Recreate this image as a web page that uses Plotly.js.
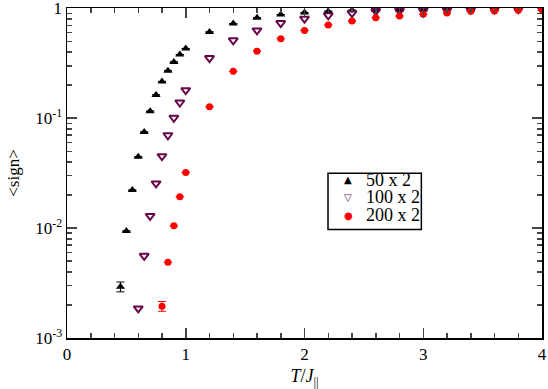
<!DOCTYPE html>
<html><head><meta charset="utf-8">
<script src="https://cdn.plot.ly/plotly-3.0.1.min.js"></script>
<style>body{margin:0;padding:0;background:#fff}#chart{width:548px;height:389px}</style>
</head><body><div id="chart"></div>
<script>
const seriesNames = ["50 x 2", "100 x 2", "200 x 2"];
const seriesColors = ["#000000", "#670748", "#ff0000"];
const legendGlyphs = ["▲", "<b>▽</b>", "●"];

const x50 = [0.45,0.5,0.55,0.6,0.65,0.7,0.75,0.8,0.85,0.9,0.95,1.0,1.2,1.4,1.6,1.8,2.0,2.2,2.4,2.6,2.8,3.0,3.2,3.4,3.6,3.8,4.0];
const y50 = [0.00293,0.0094,0.0222,0.0445,0.075,0.116,0.163,0.216,0.27,0.325,0.38,0.43,0.61,0.726,0.82,0.877,0.914,0.94,0.96,0.965,0.97,0.975,0.98,0.985,0.987,0.99,0.99];
const e50 = [0.00030,0,0,0,0,0,0,0,0,0,0,0,0,0,0,0,0,0,0,0,0,0,0,0,0,0,0];

const x100 = [0.6,0.65,0.7,0.75,0.8,0.85,0.9,0.95,1.0,1.2,1.4,1.6,1.8,2.0,2.2,2.4,2.6,2.8,3.0,3.2,3.4,3.6,3.8,4.0];
const y100 = [0.00186,0.0056,0.0129,0.0255,0.0451,0.070,0.101,0.139,0.18,0.353,0.512,0.63,0.735,0.805,0.864,0.906,0.945,0.955,0.96,0.97,0.975,0.98,0.982,0.985];

const x200 = [0.8,0.85,0.9,0.95,1.0,1.2,1.4,1.6,1.8,2.0,2.2,2.4,2.6,2.8,3.0,3.2,3.4,3.6,3.8,4.0];
const y200 = [0.00195,0.00488,0.0105,0.0193,0.032,0.127,0.267,0.407,0.53,0.63,0.705,0.767,0.823,0.851,0.882,0.906,0.939,0.945,0.96,0.97];
const e200 = [0.00020,0,0,0,0,0,0,0,0,0,0,0,0,0,0,0,0,0,0,0];

const yTickVals = [0.001, 0.01, 0.1, 1];
const yTickText = ["10<sup>-3</sup>", "10<sup>-2</sup>", "10<sup>-1</sup>", "1"];
const yMinorVals = [];
[0.001, 0.01, 0.1].forEach(d => { for (let k = 2; k <= 9; k++) yMinorVals.push(d * k); });

const serif = "Liberation Serif, Times New Roman, serif";

const traces = [
  {x:x50, y:y50, name:seriesNames[0], type:"scatter", mode:"markers",
   marker:{symbol:"triangle-up", size:8, color:seriesColors[0]},
   error_y:{type:"data", array:e50, visible:true, color:seriesColors[0], thickness:1, width:4}},
  {x:x100, y:y100, name:seriesNames[1], type:"scatter", mode:"markers",
   marker:{symbol:"triangle-down-open", size:8, color:seriesColors[1], line:{width:2, color:seriesColors[1]}}},
  {x:x200, y:y200, name:seriesNames[2], type:"scatter", mode:"markers",
   marker:{symbol:"circle", size:7, color:seriesColors[2]},
   error_y:{type:"data", array:e200, visible:true, color:seriesColors[2], thickness:1, width:4}}
];

// legend drawn as a box with glyphs and labels in paper coordinates
const legX0 = 0.5495, legX1 = 0.746, legY0 = 0.329, legY1 = 0.499;
const legRowY = [0.4788, 0.4264, 0.3727];
const annotations = [];
seriesNames.forEach((n, i) => {
  annotations.push({xref:"paper", yref:"paper", x:0.5916, y:legRowY[i], xanchor:"center", yanchor:"middle",
    text:legendGlyphs[i], showarrow:false, font:{family:"DejaVu Sans", size:10, color:seriesColors[i]}});
  annotations.push({xref:"paper", yref:"paper", x:0.6245, y:legRowY[i], xanchor:"left", yanchor:"middle",
    text:n, showarrow:false, font:{family:serif, size:18, color:"#000"}});
});

const layout = {
  width:548, height:389,
  margin:{l:67, r:6, t:8, b:51},
  paper_bgcolor:"#ffffff", plot_bgcolor:"#ffffff",
  font:{family:serif, size:16, color:"#000"},
  showlegend:false,
  annotations:annotations,
  shapes:[{type:"rect", xref:"paper", yref:"paper", x0:legX0, x1:legX1, y0:legY0, y1:legY1,
           line:{color:"#000", width:1.5}, fillcolor:"rgba(0,0,0,0)"}],
  xaxis:{range:[0,4], dtick:1, tick0:0, ticks:"inside", ticklen:10, tickwidth:1.5,
         showline:true, linewidth:1.5, linecolor:"#000", mirror:"allticks",
         showgrid:false, zeroline:false, ticklabeloverflow:"allow",
         tickfont:{family:serif, size:17, color:"#000"},
         minor:{dtick:0.2, ticks:"inside", ticklen:5, tickwidth:1.5, showgrid:false},
         title:{text:"<i>T</i>/<i>J</i><sub>||</sub>", font:{family:serif, size:18, color:"#000"}, standoff:6}},
  yaxis:{type:"log", range:[-3,0.003], tickmode:"array", tickvals:yTickVals, ticktext:yTickText,
         ticks:"inside", ticklen:10, tickwidth:1.5,
         showline:true, linewidth:1.5, linecolor:"#000", mirror:"allticks",
         showgrid:false, zeroline:false, ticklabeloverflow:"allow",
         tickfont:{family:serif, size:17, color:"#000"},
         minor:{tickmode:"array", tickvals:yMinorVals, ticks:"inside", ticklen:5, tickwidth:1.5, showgrid:false},
         title:{text:"&lt;sign&gt;", font:{family:serif, size:17, color:"#000"}, standoff:11}}
};

Plotly.newPlot("chart", traces, layout, {displayModeBar:false, staticPlot:true});
</script>
</body></html>
